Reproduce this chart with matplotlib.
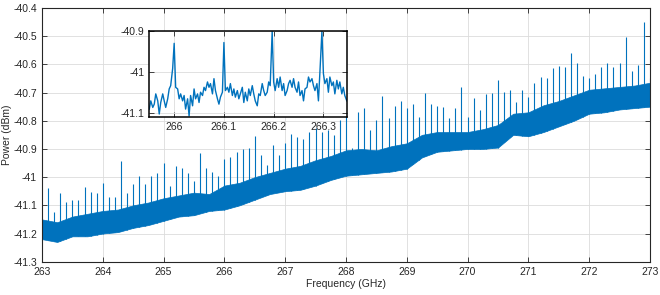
import numpy as np
import matplotlib
matplotlib.use("Agg")
import matplotlib.pyplot as plt

plt.rcParams['font.family'] = ['Liberation Sans', 'DejaVu Sans']
plt.rcParams['axes.unicode_minus'] = False

# --- noise floor envelope (read every 0.25 GHz) ---
band_freq = [263.0, 263.25, 263.5, 263.75, 264.0, 264.25, 264.5, 264.75, 265.0, 265.25,
             265.5, 265.75, 266.0, 266.25, 266.5, 266.75, 267.0, 267.25, 267.5, 267.75,
             268.0, 268.25, 268.5, 268.75, 269.0, 269.25, 269.5, 269.75, 270.0, 270.25,
             270.5, 270.75, 271.0, 271.25, 271.5, 271.75, 272.0, 272.25, 272.5, 272.75, 273.0]
band_upper = [-41.15, -41.16, -41.14, -41.13, -41.12, -41.115, -41.10, -41.09, -41.075, -41.065,
              -41.055, -41.06, -41.03, -41.02, -41.00, -40.985, -40.97, -40.96, -40.94, -40.925,
              -40.905, -40.90, -40.905, -40.89, -40.88, -40.85, -40.84, -40.84, -40.84, -40.83,
              -40.815, -40.775, -40.77, -40.745, -40.73, -40.71, -40.69, -40.685, -40.68, -40.675, -40.665]
band_lower = [-41.22, -41.23, -41.21, -41.21, -41.20, -41.195, -41.18, -41.17, -41.155, -41.14,
              -41.135, -41.12, -41.115, -41.10, -41.08, -41.06, -41.05, -41.045, -41.03, -41.01,
              -40.995, -40.99, -40.985, -40.98, -40.97, -40.93, -40.91, -40.905, -40.90, -40.90,
              -40.895, -40.85, -40.855, -40.84, -40.82, -40.80, -40.775, -40.77, -40.76, -40.755, -40.75]

# --- comb lines (every 0.1 GHz) and their peak power ---
comb_freq = [263.1, 263.2, 263.3, 263.4, 263.5, 263.6, 263.7, 263.8, 263.9, 264.0,
             264.1, 264.2, 264.3, 264.4, 264.5, 264.6, 264.7, 264.8, 264.9, 265.0,
             265.1, 265.2, 265.3, 265.4, 265.5, 265.6, 265.7, 265.8, 265.9, 266.0,
             266.1, 266.2, 266.3, 266.4, 266.5, 266.6, 266.7, 266.8, 266.9, 267.0,
             267.1, 267.2, 267.3, 267.4, 267.5, 267.6, 267.7, 267.8, 267.9, 268.0,
             268.1, 268.2, 268.3, 268.4, 268.5, 268.6, 268.7, 268.8, 268.9, 269.0,
             269.1, 269.2, 269.3, 269.4, 269.5, 269.6, 269.7, 269.8, 269.9, 270.0,
             270.1, 270.2, 270.3, 270.4, 270.5, 270.6, 270.7, 270.8, 270.9, 271.0,
             271.1, 271.2, 271.3, 271.4, 271.5, 271.6, 271.7, 271.8, 271.9, 272.0,
             272.1, 272.2, 272.3, 272.4, 272.5, 272.6, 272.7, 272.8, 272.9, 273.0]
comb_peak = [-41.04, -41.125, -41.055, -41.09, -41.082, -41.082, -41.034, -41.054, -41.058, -41.022,
             -41.07, -41.072, -40.943, -41.055, -41.026, -40.995, -41.025, -40.995, -40.987, -40.951,
             -41.03, -40.961, -40.969, -40.985, -41.012, -40.914, -40.967, -40.983, -40.995, -40.934,
             -40.93, -40.91, -40.901, -40.898, -40.853, -40.921, -40.957, -40.886, -40.921, -40.88,
             -40.847, -40.856, -40.866, -40.839, -40.827, -40.839, -40.833, -40.851, -40.797, -40.77,
             -40.898, -40.768, -40.756, -40.833, -40.797, -40.712, -40.791, -40.748, -40.731, -40.754,
             -40.742, -40.786, -40.703, -40.741, -40.747, -40.75, -40.79, -40.756, -40.681, -40.785,
             -40.718, -40.762, -40.706, -40.70, -40.655, -40.697, -40.691, -40.732, -40.691, -40.715,
             -40.667, -40.644, -40.647, -40.612, -40.605, -40.608, -40.561, -40.596, -40.641, -40.647,
             -40.635, -40.608, -40.596, -40.608, -40.596, -40.502, -40.624, -40.602, -40.449, -40.648]

# --- inset trace ---
inset_freq = [265.950, 265.953, 265.957, 265.960, 265.963, 265.967, 265.970, 265.973, 265.977, 265.980, 265.983, 265.987,
              265.990, 265.993, 265.997, 266.000, 266.003, 266.007, 266.010, 266.013, 266.017, 266.020, 266.023, 266.027,
              266.030, 266.033, 266.037, 266.040, 266.043, 266.047, 266.050, 266.053, 266.057, 266.060, 266.063, 266.067,
              266.070, 266.073, 266.077, 266.080, 266.083, 266.087, 266.090, 266.093, 266.097, 266.100, 266.103, 266.107,
              266.110, 266.113, 266.117, 266.120, 266.123, 266.127, 266.130, 266.133, 266.137, 266.140, 266.143, 266.147,
              266.150, 266.153, 266.157, 266.160, 266.163, 266.167, 266.170, 266.173, 266.177, 266.180, 266.183, 266.187,
              266.190, 266.193, 266.197, 266.200, 266.203, 266.207, 266.210, 266.213, 266.217, 266.220, 266.223, 266.227,
              266.230, 266.233, 266.237, 266.240, 266.243, 266.247, 266.250, 266.253, 266.257, 266.260, 266.263, 266.267,
              266.270, 266.273, 266.277, 266.280, 266.283, 266.287, 266.290, 266.293, 266.297, 266.300, 266.303, 266.307,
              266.310, 266.313, 266.317, 266.320, 266.323, 266.327, 266.330, 266.333, 266.337, 266.340, 266.343, 266.347]
inset_power = [-41.090, -41.070, -41.086, -41.078, -41.053, -41.070, -41.102, -41.074, -41.053, -41.070,
               -41.086, -41.065, -41.041, -41.033, -40.991, -40.930, -41.037, -41.041, -41.065, -41.053,
               -41.070, -41.057, -41.090, -41.065, -41.107, -41.057, -41.082, -41.041, -41.065, -41.053,
               -41.074, -41.049, -41.057, -41.037, -41.045, -41.024, -41.037, -41.028, -41.053, -41.016,
               -41.045, -41.065, -41.078, -41.061, -41.049, -40.928, -41.045, -41.037, -41.049, -41.028,
               -41.057, -41.041, -41.061, -41.045, -41.065, -41.053, -41.037, -41.074, -41.049, -41.070,
               -41.041, -41.057, -41.033, -41.053, -41.070, -41.082, -41.053, -41.057, -41.028, -41.045,
               -41.057, -41.049, -41.024, -41.033, -40.901, -41.024, -41.045, -41.016, -41.037, -41.012,
               -41.045, -41.028, -41.057, -41.045, -41.028, -41.020, -41.037, -41.016, -41.037, -41.049,
               -41.024, -41.057, -41.045, -41.070, -41.041, -41.037, -41.012, -41.024, -41.016, -41.033,
               -41.045, -41.028, -41.070, -40.999, -40.901, -41.004, -41.028, -41.016, -41.049, -41.012,
               -41.033, -41.024, -41.053, -41.020, -41.041, -41.024, -41.053, -41.037, -41.057, -41.070]

x_ticks = [263, 264, 265, 266, 267, 268, 269, 270, 271, 272, 273]
y_ticks = [-41.3, -41.2, -41.1, -41.0, -40.9, -40.8, -40.7, -40.6, -40.5, -40.4]
inset_x_ticks = [266.0, 266.1, 266.2, 266.3]
inset_y_ticks = [-41.1, -41.0, -40.9]

blue = '#0072BD'
dark = '#262626'


def style(a, size):
    a.tick_params(direction='in', top=True, right=True, length=3.5, width=0.6,
                  colors=dark, labelsize=size, pad=3.5)
    a.grid(True, color='#dcdcdc', lw=0.6)
    a.set_axisbelow(True)
    for s in a.spines.values():
        s.set_color(dark)
        s.set_linewidth(0.8)


fig = plt.figure(figsize=(6.6, 2.95), dpi=100)
ax = fig.add_axes([0.0636, 0.1129, 0.9212, 0.86])
ax.fill_between(band_freq, band_lower, band_upper, color=blue, lw=0.5, edgecolor=blue)
base = np.interp(comb_freq, band_freq, band_lower)
ax.vlines(comb_freq, base, comb_peak, color=blue, lw=0.8)
ax.set_xlim(263, 273)
ax.set_ylim(-41.3, -40.4)
ax.set_xticks(x_ticks)
ax.set_xticklabels(['%g' % v for v in x_ticks])
ax.set_yticks(y_ticks)
ax.set_yticklabels(['%g' % v for v in y_ticks])
style(ax, 7.5)
ax.set_xlabel('Frequency (GHz)', fontsize=7.5, color=dark, labelpad=2)
ax.set_ylabel('Power (dBm)', fontsize=7.5, color=dark, labelpad=1)

axin = fig.add_axes([0.2262, 0.6024, 0.30, 0.2925])
axin.set_facecolor('white')
axin.plot(inset_freq, inset_power, color=blue, lw=1.0)
axin.set_xlim(265.95, 266.348)
axin.set_ylim(-41.11, -40.9)
axin.set_xticks(inset_x_ticks)
axin.set_xticklabels(['%g' % v for v in inset_x_ticks])
axin.set_yticks(inset_y_ticks)
axin.set_yticklabels(['%g' % v for v in inset_y_ticks])
style(axin, 7.5)
for s in axin.spines.values():
    s.set_color('black')
    s.set_linewidth(1.1)

fig.savefig('out.png', dpi=100)
